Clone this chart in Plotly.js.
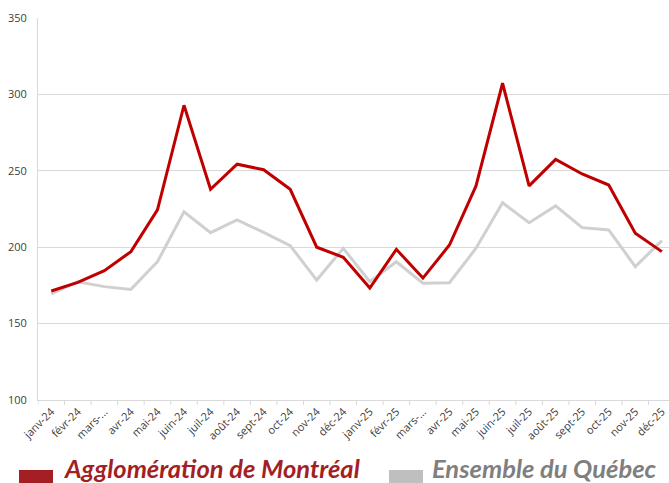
<!DOCTYPE html>
<html>
<head>
<meta charset="utf-8">
<script src="https://cdn.plot.ly/plotly-3.0.1.min.js"></script>
<style>html,body{margin:0;padding:0;background:#fff;}#chart{width:669px;height:483px;}</style>
</head>
<body>
<div id="chart"></div>
<script>
const months = ["janv-24","févr-24","mars-...","avr-24","mai-24","juin-24","juil-24","août-24","sept-24","oct-24","nov-24","déc-24",
                "janv-25","févr-25","mars-...","avr-25","mai-25","juin-25","juil-25","août-25","sept-25","oct-25","nov-25","déc-25"];
const montreal = [171.3,177.0,184.6,197.1,224.4,292.9,237.9,254.3,250.7,237.9,200.0,193.4,
                  173.3,198.6,179.8,201.4,240.1,307.3,240.1,257.5,247.9,240.7,209.1,197.1];
const quebec = [169.4,177.4,174.2,172.4,190.5,223.2,209.5,217.8,209.7,201.0,178.5,199.3,
                177.4,190.5,176.4,176.8,199.3,229.1,216.0,227.0,212.8,211.3,187.3,204.3];
const seriesNames = ["Agglomération de Montréal","Ensemble du Québec"];
const yTicks = [100,150,200,250,300,350];

const W = 669, H = 483, L = 38, T = 18, B = 83;
const plotW = W - L, plotH = H - T - B;
const px = v => (v - L) / plotW;
const py = v => (H - B - v) / plotH;

const traces = [
  {x: months.map((m,i)=>i), y: quebec, name: seriesNames[1], type: "scatter", mode: "lines",
   line: {color: "#d0d0d0", width: 3}, showlegend: false, hoverinfo: "y"},
  {x: months.map((m,i)=>i), y: montreal, name: seriesNames[0], type: "scatter", mode: "lines",
   line: {color: "#c00000", width: 3}, showlegend: false, hoverinfo: "y"}
];

const legendFont = "Lato, 'Open Sans', sans-serif";
const layout = {
  width: W, height: H,
  margin: {l: L, r: 0, t: T, b: B, pad: 0},
  paper_bgcolor: "#fff", plot_bgcolor: "#fff",
  showlegend: false,
  xaxis: {
    range: [-0.5, 23.27],
    tickmode: "array",
    tickvals: months.map((m,i)=>i),
    ticktext: months,
    tickangle: -45,
    tickfont: {family: "'Open Sans', sans-serif", size: 11, color: "#404040"},
    ticks: "", 
    showgrid: false, zeroline: false,
    showline: true, linecolor: "#d9d9d9", linewidth: 1,
    fixedrange: true
  },
  yaxis: {
    range: [100, 350],
    tickmode: "array", tickvals: yTicks, ticktext: yTicks.map(String),
    tickfont: {family: "'Open Sans', sans-serif", size: 11, color: "#404040"},
    ticks: "", ticklabelstandoff: 8,
    showgrid: true, gridcolor: "#d9d9d9", gridwidth: 1,
    zeroline: false, showline: true, linecolor: "#d9d9d9", linewidth: 1,
    fixedrange: true
  },
  shapes: [
    // x-axis tick marks at category boundaries
    ...Array.from({length: 24}, (_, i) => ({
      type: "line", xref: "x", yref: "paper", x0: i - 0.5, x1: i - 0.5, y0: 0, y1: -5/plotH,
      line: {color: "#d9d9d9", width: 1}
    })),
    {type: "rect", xref: "paper", yref: "paper", x0: px(19), x1: px(53), y0: py(470), y1: py(490),
     fillcolor: "#a31f24", line: {width: 0}},
    {type: "rect", xref: "paper", yref: "paper", x0: px(389), x1: px(423), y0: py(470), y1: py(490),
     fillcolor: "#bfbfbf", line: {width: 0}}
  ],
  annotations: [
    {text: "<b><i>" + seriesNames[0] + "</i></b>", xref: "paper", yref: "paper", x: px(61), y: py(468),
     xanchor: "left", yanchor: "middle", showarrow: false,
     font: {family: legendFont, size: 25.5, color: "#a31f24"}},
    {text: "<b><i>" + seriesNames[1] + "</i></b>", xref: "paper", yref: "paper", x: px(430), y: py(468),
     xanchor: "left", yanchor: "middle", showarrow: false,
     font: {family: legendFont, size: 25.5, color: "#7f7f7f"}}
  ]
};
Plotly.newPlot("chart", traces, layout, {displayModeBar: false, staticPlot: true});
</script>
</body>
</html>
